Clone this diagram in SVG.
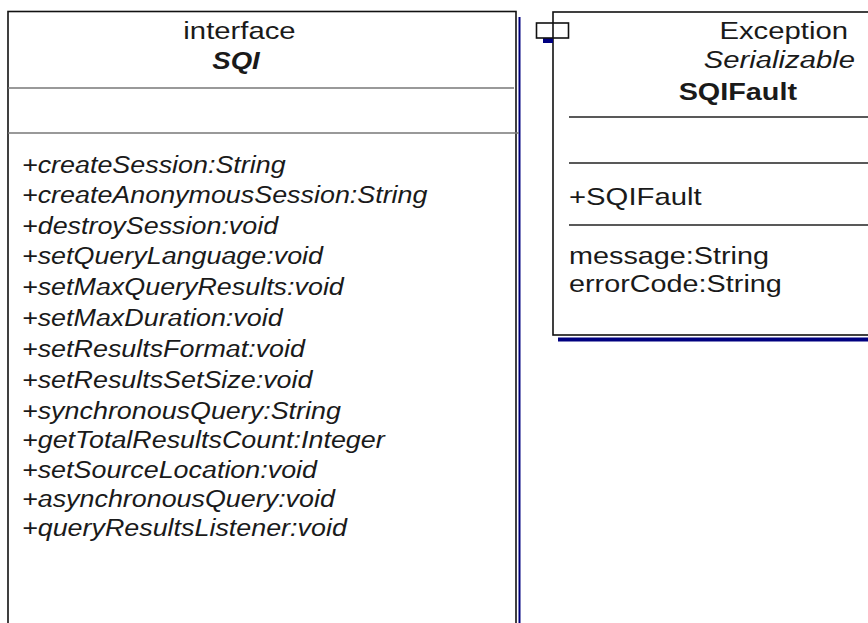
<svg xmlns="http://www.w3.org/2000/svg" width="868" height="623" viewBox="0 0 868 623">
  <style>
    text { font-family: "Liberation Sans", Arial, sans-serif; fill: #1a1a1a; font-size: 24px; }
    .op { font-style: italic; }
    .edge { stroke: #111; stroke-width: 1.6; fill: none; }
    .div { stroke: #777; stroke-width: 1.5; fill: none; }
    .div2 { stroke: #222; stroke-width: 1.5; fill: none; }
    .shadow { stroke: #000080; fill: none; }
  </style>
  <rect width="868" height="623" fill="#ffffff"/>
  <g id="connectors"/>
  <g id="SQI">
    <rect x="8" y="11.5" width="508" height="640" fill="#ffffff" class="edge"/>
    <line x1="519.5" y1="17" x2="519.5" y2="623" class="shadow" stroke-width="2"/>
    <line x1="8" y1="88" x2="514" y2="88" class="div"/>
    <line x1="8" y1="133" x2="519" y2="133" class="div"/>
    <text transform="translate(239.5,38.5) scale(1.22,1)" text-anchor="middle">interface</text>
    <text transform="translate(236,69) scale(1.15,1)" text-anchor="middle" font-weight="bold" font-style="italic">SQI</text>
    <text transform="translate(22,173) scale(1.12,1)" class="op">+createSession:String</text>
    <text transform="translate(22,203) scale(1.12,1)" class="op">+createAnonymousSession:String</text>
    <text transform="translate(22,234) scale(1.12,1)" class="op">+destroySession:void</text>
    <text transform="translate(22,264) scale(1.12,1)" class="op">+setQueryLanguage:void</text>
    <text transform="translate(22,295) scale(1.12,1)" class="op">+setMaxQueryResults:void</text>
    <text transform="translate(22,326) scale(1.12,1)" class="op">+setMaxDuration:void</text>
    <text transform="translate(22,357) scale(1.12,1)" class="op">+setResultsFormat:void</text>
    <text transform="translate(22,388) scale(1.12,1)" class="op">+setResultsSetSize:void</text>
    <text transform="translate(22,419) scale(1.12,1)" class="op">+synchronousQuery:String</text>
    <text transform="translate(22,448) scale(1.12,1)" class="op">+getTotalResultsCount:Integer</text>
    <text transform="translate(22,478) scale(1.12,1)" class="op">+setSourceLocation:void</text>
    <text transform="translate(22,507) scale(1.12,1)" class="op">+asynchronousQuery:void</text>
    <text transform="translate(22,536) scale(1.12,1)" class="op">+queryResultsListener:void</text>
  </g>
  <g id="SQIFault">
    <line x1="558" y1="339.5" x2="868" y2="339.5" class="shadow" stroke-width="4"/>
    <rect x="553" y="12" width="330" height="323" fill="#ffffff" class="edge"/>
    <rect x="543" y="38" width="10" height="5" fill="#000080"/>
    <rect x="536.5" y="23" width="32" height="15" fill="#ffffff" class="edge"/>
    <line x1="569" y1="117" x2="868" y2="117" class="div2"/>
    <line x1="569" y1="163" x2="868" y2="163" class="div2"/>
    <line x1="569" y1="225" x2="868" y2="225" class="div2"/>
    <text transform="translate(848,39) scale(1.22,1)" text-anchor="end">Exception</text>
    <text transform="translate(855,68) scale(1.22,1)" text-anchor="end" font-style="italic">Serializable</text>
    <text transform="translate(797,100) scale(1.2,1)" text-anchor="end" font-weight="bold">SQIFault</text>
    <text transform="translate(569,205) scale(1.22,1)">+SQIFault</text>
    <text transform="translate(569,264) scale(1.2,1)">message:String</text>
    <text transform="translate(569,292) scale(1.2,1)">errorCode:String</text>
  </g>
</svg>
